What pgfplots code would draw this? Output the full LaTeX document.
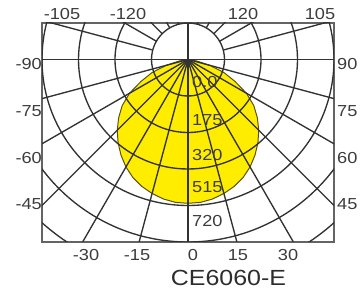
\documentclass[border=0pt]{standalone}
\usepackage{pgfplots}
\pgfplotsset{compat=1.18}
\usepackage{fontspec}
\setmainfont{Liberation Sans}[FakeStretch=1.14]
\definecolor{lampyellow}{RGB}{255,237,0}
\definecolor{lampedge}{RGB}{90,82,10}
\definecolor{gridc}{RGB}{50,50,50}
\definecolor{framec}{RGB}{100,100,100}
\definecolor{labc}{RGB}{60,60,60}
\begin{document}
\begin{tikzpicture}
\begin{axis}[x=36.5bp,y=36.5bp,xmin=-4,xmax=4,ymin=-5,ymax=1,ticks=none,
  axis line style={draw=framec,line width=1.6bp}]
\addplot[fill=lampyellow,draw=lampedge,line width=1bp]
  table[x expr={\thisrow{r}*sin(\thisrow{a})}, y expr={-\thisrow{r}*cos(\thisrow{a})}] {
a r
-90 0
-85 0.06
-80 0.25
-75 0.62
-70 1.05
-65 1.42
-60 1.85
-55 2.20
-50 2.48
-45 2.74
-40 2.98
-35 3.20
-30 3.40
-25 3.57
-20 3.70
-15 3.80
-10 3.88
-5 3.93
0 3.94
5 3.93
10 3.88
15 3.80
20 3.70
25 3.57
30 3.40
35 3.20
40 2.98
45 2.74
50 2.48
55 2.20
60 1.85
65 1.42
70 1.05
75 0.62
80 0.25
85 0.06
90 0
};
\pgfplotsinvokeforeach{1,2,3,4,5,6}{
  \draw[gridc,line width=1.35bp] (axis cs:0,0) circle[radius=#1*36.5bp];
}
\pgfplotsinvokeforeach{15,30,45,60,75,-15,-30,-45,-60,-75}{
  \draw[gridc,line width=1.35bp] (axis cs:0,0) -- (axis cs:{8*sin(#1)},{-8*cos(#1)});
}
\pgfplotsinvokeforeach{105,120,135,150,165,-105,-120,-135,-150,-165}{
  \draw[gridc,line width=1.35bp] (axis cs:{sin(#1)},{-cos(#1)}) -- (axis cs:{8*sin(#1)},{-8*cos(#1)});
}
\draw[gridc,line width=1.35bp] (axis cs:0,1) -- (axis cs:0,-5);
\draw[gridc,line width=1.35bp] (axis cs:-4,0) -- (axis cs:4,0);
\coordinate (O) at (axis cs:0,0);
\end{axis}
\tikzset{lab/.style={font=\fontsize{16}{16}\selectfont,text=labc,inner sep=0pt}}
% top
\node[lab] at ([shift={(-126bp,45.5bp)}]O) {-105};
\node[lab] at ([shift={(-60bp,45.5bp)}]O) {-120};
\node[lab] at ([shift={(55bp,45.5bp)}]O) {120};
\node[lab] at ([shift={(132bp,45.5bp)}]O) {105};
% left
\node[lab,anchor=east] at ([shift={(-146bp,-4.5bp)}]O) {-90};
\node[lab,anchor=east] at ([shift={(-146bp,-51.5bp)}]O) {-75};
\node[lab,anchor=east] at ([shift={(-146bp,-98.5bp)}]O) {-60};
\node[lab,anchor=east] at ([shift={(-146bp,-144.5bp)}]O) {-45};
% right
\node[lab,anchor=west] at ([shift={(149bp,-4.5bp)}]O) {90};
\node[lab,anchor=west] at ([shift={(149bp,-51.5bp)}]O) {75};
\node[lab,anchor=west] at ([shift={(149bp,-98.5bp)}]O) {60};
\node[lab,anchor=west] at ([shift={(149bp,-144.5bp)}]O) {45};
% bottom
\node[lab] at ([shift={(-102bp,-195.5bp)}]O) {-30};
\node[lab] at ([shift={(-51bp,-195.5bp)}]O) {-15};
\node[lab] at ([shift={(5bp,-195.5bp)}]O) {0};
\node[lab] at ([shift={(50bp,-195.5bp)}]O) {15};
\node[lab] at ([shift={(100bp,-195.5bp)}]O) {30};
% circle values
\node[lab,anchor=west] at ([shift={(4bp,-22.5bp)}]O) {0.0};
\node[lab,anchor=west] at ([shift={(4bp,-60.5bp)}]O) {175};
\node[lab,anchor=west] at ([shift={(4bp,-95.5bp)}]O) {320};
\node[lab,anchor=west] at ([shift={(4bp,-127.5bp)}]O) {515};
\node[lab,anchor=west] at ([shift={(4bp,-161.5bp)}]O) {720};
% title
\node[font=\fontsize{22}{22}\selectfont,text={rgb,255:red,45;green,45;blue,45},inner sep=0pt] at ([shift={(40.5bp,-218.5bp)}]O) {CE6060-E};
\pgfresetboundingbox
\path[use as bounding box] ([shift={(-188bp,-233.5bp)}]O) rectangle ([shift={(172bp,59.5bp)}]O);
\end{tikzpicture}
\end{document}
